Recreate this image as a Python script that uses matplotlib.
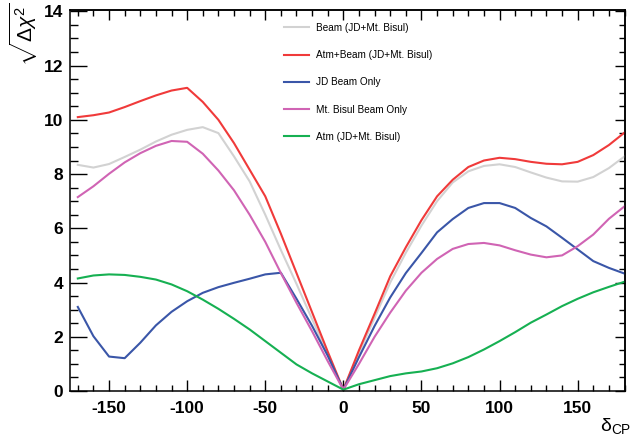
import numpy as np
import matplotlib
matplotlib.use('Agg')
from matplotlib import pyplot as plt
from matplotlib.ticker import MultipleLocator

plt.rcParams['font.family'] = ['Liberation Sans', 'DejaVu Sans']
plt.rcParams['mathtext.fontset'] = 'custom'
plt.rcParams['mathtext.rm'] = 'Liberation Sans'
plt.rcParams['mathtext.it'] = 'Liberation Sans:italic'
plt.rcParams['axes.unicode_minus'] = False

# delta_CP grid (degrees)
delta_cp = list(range(-170, 190, 10))

beam_both = [8.34, 8.24, 8.37, 8.63, 8.90, 9.20, 9.45, 9.63, 9.73, 9.51, 8.65, 7.73,
             6.50, 5.20, 3.95, 2.65, 1.35, 0.05,
             1.40, 2.70, 4.00, 5.10, 6.10, 7.00, 7.69, 8.10, 8.30, 8.36, 8.26, 8.06,
             7.87, 7.73, 7.72, 7.89, 8.22, 8.65]
atm_beam = [10.10, 10.17, 10.27, 10.47, 10.69, 10.90, 11.08, 11.18, 10.66, 10.00, 9.14, 8.16,
            7.18, 5.80, 4.35, 2.90, 1.45, 0.05,
            1.50, 2.85, 4.23, 5.30, 6.30, 7.18, 7.79, 8.26, 8.50, 8.60, 8.55, 8.45,
            8.38, 8.36, 8.45, 8.70, 9.07, 9.53]
jd_beam = [3.10, 2.02, 1.27, 1.21, 1.78, 2.42, 2.92, 3.31, 3.62, 3.83, 3.99, 4.14,
           4.30, 4.36, 3.40, 2.40, 1.30, 0.05,
           1.25, 2.40, 3.45, 4.35, 5.09, 5.85, 6.34, 6.75, 6.93, 6.93, 6.75, 6.38,
           6.07, 5.65, 5.22, 4.79, 4.54, 4.33]
bisul_beam = [7.15, 7.55, 8.01, 8.43, 8.77, 9.04, 9.22, 9.19, 8.75, 8.13, 7.40, 6.50,
              5.50, 4.35, 3.25, 2.20, 1.10, 0.05,
              1.00, 2.00, 2.89, 3.70, 4.36, 4.87, 5.24, 5.42, 5.46, 5.37, 5.19, 5.03,
              4.93, 5.00, 5.34, 5.77, 6.35, 6.81]
atm_only = [4.15, 4.26, 4.30, 4.28, 4.21, 4.11, 3.93, 3.68, 3.37, 3.03, 2.66, 2.27,
            1.84, 1.41, 0.98, 0.65, 0.35, 0.05,
            0.25, 0.40, 0.55, 0.65, 0.72, 0.84, 1.02, 1.25, 1.53, 1.84, 2.17, 2.52,
            2.82, 3.13, 3.40, 3.64, 3.84, 4.03]

series = [
    ('Beam (JD+Mt. Bisul)', beam_both, '#d2d2d2'),
    ('Atm+Beam (JD+Mt. Bisul)', atm_beam, '#f03a3a'),
    ('JD Beam Only', jd_beam, '#3a56a8'),
    ('Mt. Bisul Beam Only', bisul_beam, '#d064b4'),
    ('Atm (JD+Mt. Bisul)', atm_only, '#16b052'),
]

fig = plt.figure(figsize=(6.33, 4.4), dpi=100)
ax = fig.add_axes([70 / 633, 1 - 391 / 440, 555 / 633, 381 / 440])

for name, vals, col in series:
    ax.plot(delta_cp, vals, color=col, lw=1.5, label=name)

ax.set_xlim(-175, 180.3)
ax.set_ylim(0, 14.05)

for s in ax.spines.values():
    s.set_linewidth(1.1)

ax.xaxis.set_major_locator(MultipleLocator(50))
ax.xaxis.set_minor_locator(MultipleLocator(10))
ax.yaxis.set_major_locator(MultipleLocator(2))
ax.yaxis.set_minor_locator(MultipleLocator(0.5))

ax.tick_params(axis='y', which='major', direction='in', length=12, width=1.0,
               labelsize=12.5, pad=5)
ax.tick_params(axis='y', which='minor', direction='in', length=6, width=1.0)
ax.tick_params(axis='x', which='major', direction='in', length=8, width=1.0,
               labelsize=12.5, pad=7)
ax.tick_params(axis='x', which='minor', direction='in', length=4.3, width=1.0)

# ticks on top and right, no labels
top = ax.secondary_xaxis('top')
top.xaxis.set_major_locator(MultipleLocator(50))
top.xaxis.set_minor_locator(MultipleLocator(10))
top.tick_params(which='major', direction='in', length=7.5, width=1.0, labeltop=False)
top.tick_params(which='minor', direction='in', length=4, width=1.0)
top.spines['top'].set_linewidth(1.1)

right = ax.secondary_yaxis('right')
right.yaxis.set_major_locator(MultipleLocator(2))
right.yaxis.set_minor_locator(MultipleLocator(0.5))
right.tick_params(which='major', direction='in', length=7.5, width=1.0, labelright=False)
right.tick_params(which='minor', direction='in', length=4, width=1.0)
right.spines['right'].set_linewidth(1.1)

for lab in ax.get_xticklabels() + ax.get_yticklabels():
    lab.set_fontweight('bold')

leg = ax.legend(loc='upper left', bbox_to_anchor=(284 / 633, 1 - 23 / 440),
                bbox_transform=fig.transFigure, frameon=False, fontsize=7.2,
                handlelength=2.5, handletextpad=0.7, labelspacing=1.72,
                borderpad=0, borderaxespad=0)

fig.text(24 / 633, 1 - 2 / 440, r'$\sqrt{\Delta\chi^2}$', rotation=90,
         ha='center', va='top', fontsize=15)
fig.text(631 / 633, 1 - 426 / 440, r'δ$_{\mathrm{CP}}$', ha='right', va='center',
         fontsize=14)

fig.savefig('out.png', dpi=100)
